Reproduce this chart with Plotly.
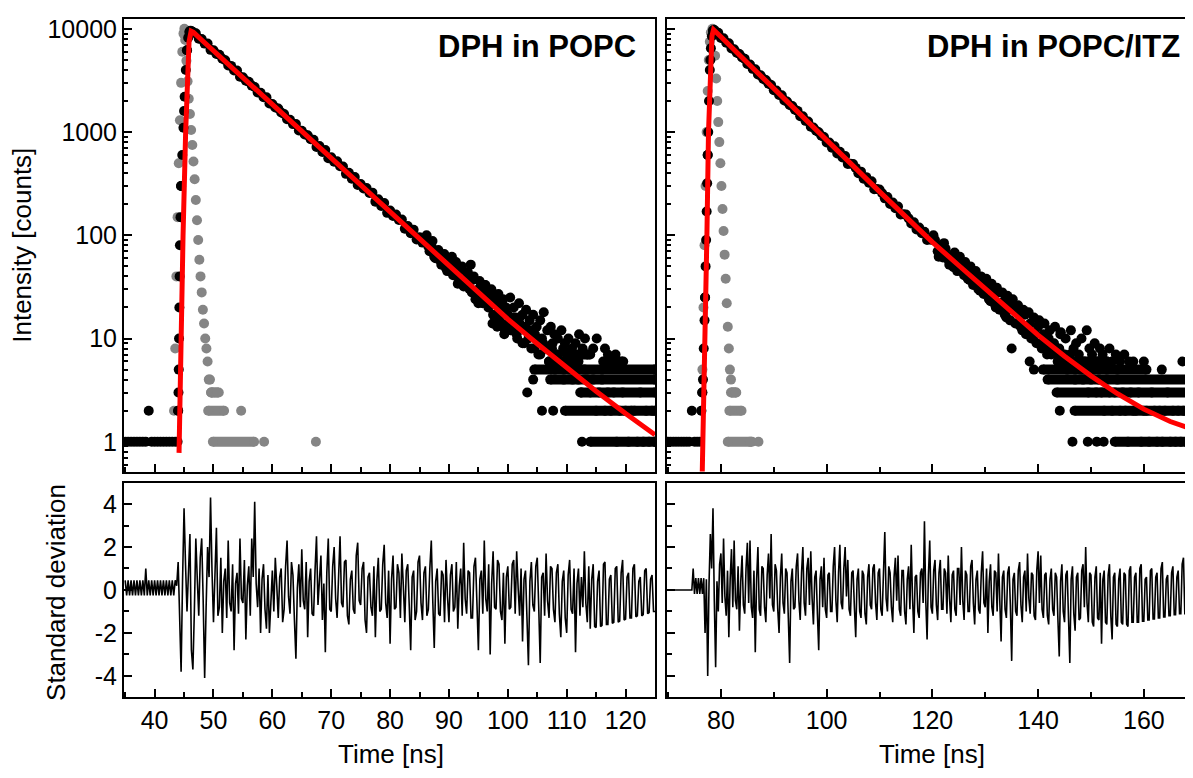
import plotly.graph_objects as go

# ---------------- DPH in POPC (left panels) ----------------
popc_t = [35, 35.5, 36, 36.5, 37, 37.5, 38, 38.5, 39, 39.5,
          40, 40.5, 41, 41.5, 42, 42.5, 43, 43.5, 44, 44.5,
          45, 45.5, 46, 46.5, 47, 47.5, 48, 48.5, 49, 49.5,
          50, 50.5, 51, 51.5, 52, 52.5, 53, 53.5, 54, 54.5,
          55, 55.5, 56, 56.5, 57, 57.5, 58, 58.5, 59, 59.5,
          60, 60.5, 61, 61.5, 62, 62.5, 63, 63.5, 64, 64.5,
          65, 65.5, 66, 66.5, 67, 67.5, 68, 68.5, 69, 69.5,
          70, 70.5, 71, 71.5, 72, 72.5, 73, 73.5, 74, 74.5,
          75, 75.5, 76, 76.5, 77, 77.5, 78, 78.5, 79, 79.5,
          80, 80.5, 81, 81.5, 82, 82.5, 83, 83.5, 84, 84.5,
          85, 85.5, 86, 86.5, 87, 87.5, 88, 88.5, 89, 89.5,
          90, 90.5, 91, 91.5, 92, 92.5, 93, 93.5, 94, 94.5,
          95, 95.5, 96, 96.5, 97, 97.5, 98, 98.5, 99, 99.5,
          100, 100.5, 101, 101.5, 102, 102.5, 103, 103.5, 104, 104.5,
          105, 105.5, 106, 106.5, 107, 107.5, 108, 108.5, 109, 109.5,
          110, 110.5, 111, 111.5, 112, 112.5, 113, 113.5, 114, 114.5,
          115, 115.5, 116, 116.5, 117, 117.5, 118, 118.5, 119, 119.5,
          120, 120.5, 121, 121.5, 122, 122.5, 123, 123.5, 124, 124.5,
          125]
popc_counts = [1, 1, 1, 1, 1, 1, 1, 1, 2, 1,
               1, 1, 1, 1, 1, 1, 1, 1, 2, 300,
               1600, 6200, 9500, 9330, 9050, 8030, 7960, 7200, 7200, 6260,
               6200, 5720, 5610, 5130, 4970, 4410, 4380, 3960, 3950, 3440,
               3400, 3150, 3080, 2820, 2730, 2425, 2410, 2175, 2170, 1890,
               1870, 1730, 1690, 1550, 1500, 1330, 1315, 1195, 1195, 1037,
               1030, 950, 931, 851, 842, 717, 732, 643, 669, 558,
               571, 516, 522, 468, 463, 394, 403, 353, 368, 307,
               314, 284, 287, 257, 259, 212, 224, 192, 206, 165,
               174, 154, 159, 141, 142, 116, 123, 105, 113, 91,
               96, 85, 87, 78, 80, 62, 69, 57, 64, 48,
               53, 46, 49, 43, 46, 32, 39, 30, 37, 24,
               30, 24, 28, 23, 26, 17, 22, 16, 22, 12,
               17, 12, 16, 11, 14, 9, 13, 10, 12, 8,
               10, 7, 9, 8, 6, 8, 5, 7, 6, 4,
               6, 5, 4, 5, 4, 3, 5, 4, 3, 4,
               2, 3, 4, 2, 3, 2, 3, 1, 2, 3,
               2, 1, 2, 2, 1, 3, 1, 2, 1, 2,
               1]

# weighted residuals, read on a finer time grid
popc_rt = [35, 35.25, 35.5, 35.75, 36, 36.25, 36.5, 36.75, 37, 37.25,
           37.5, 37.75, 38, 38.25, 38.5, 38.75, 39, 39.25, 39.5, 39.75,
           40, 40.25, 40.5, 40.75, 41, 41.25, 41.5, 41.75, 42, 42.25,
           42.5, 42.75, 43, 43.25, 43.5, 43.75, 44, 44.25, 44.5, 44.75,
           45, 45.25, 45.5, 45.75, 46, 46.25, 46.5, 46.75, 47, 47.25,
           47.5, 47.75, 48, 48.25, 48.5, 48.75, 49, 49.25, 49.5, 49.75,
           50, 50.25, 50.5, 50.75, 51, 51.25, 51.5, 51.75, 52, 52.25,
           52.5, 52.75, 53, 53.25, 53.5, 53.75, 54, 54.25, 54.5, 54.75,
           55, 55.25, 55.5, 55.75, 56, 56.25, 56.5, 56.75, 57, 57.25,
           57.5, 57.75, 58, 58.25, 58.5, 58.75, 59, 59.25, 59.5, 59.75,
           60, 60.25, 60.5, 60.75, 61, 61.25, 61.5, 61.75, 62, 62.25,
           62.5, 62.75, 63, 63.25, 63.5, 63.75, 64, 64.25, 64.5, 64.75,
           65, 65.25, 65.5, 65.75, 66, 66.25, 66.5, 66.75, 67, 67.25,
           67.5, 67.75, 68, 68.25, 68.5, 68.75, 69, 69.25, 69.5, 69.75,
           70, 70.25, 70.5, 70.75, 71, 71.25, 71.5, 71.75, 72, 72.25,
           72.5, 72.75, 73, 73.25, 73.5, 73.75, 74, 74.25, 74.5, 74.75,
           75, 75.25, 75.5, 75.75, 76, 76.25, 76.5, 76.75, 77, 77.25,
           77.5, 77.75, 78, 78.25, 78.5, 78.75, 79, 79.25, 79.5, 79.75,
           80, 80.25, 80.5, 80.75, 81, 81.25, 81.5, 81.75, 82, 82.25,
           82.5, 82.75, 83, 83.25, 83.5, 83.75, 84, 84.25, 84.5, 84.75,
           85, 85.25, 85.5, 85.75, 86, 86.25, 86.5, 86.75, 87, 87.25,
           87.5, 87.75, 88, 88.25, 88.5, 88.75, 89, 89.25, 89.5, 89.75,
           90, 90.25, 90.5, 90.75, 91, 91.25, 91.5, 91.75, 92, 92.25,
           92.5, 92.75, 93, 93.25, 93.5, 93.75, 94, 94.25, 94.5, 94.75,
           95, 95.25, 95.5, 95.75, 96, 96.25, 96.5, 96.75, 97, 97.25,
           97.5, 97.75, 98, 98.25, 98.5, 98.75, 99, 99.25, 99.5, 99.75,
           100, 100.25, 100.5, 100.75, 101, 101.25, 101.5, 101.75, 102, 102.25,
           102.5, 102.75, 103, 103.25, 103.5, 103.75, 104, 104.25, 104.5, 104.75,
           105, 105.25, 105.5, 105.75, 106, 106.25, 106.5, 106.75, 107, 107.25,
           107.5, 107.75, 108, 108.25, 108.5, 108.75, 109, 109.25, 109.5, 109.75,
           110, 110.25, 110.5, 110.75, 111, 111.25, 111.5, 111.75, 112, 112.25,
           112.5, 112.75, 113, 113.25, 113.5, 113.75, 114, 114.25, 114.5, 114.75,
           115, 115.25, 115.5, 115.75, 116, 116.25, 116.5, 116.75, 117, 117.25,
           117.5, 117.75, 118, 118.25, 118.5, 118.75, 119, 119.25, 119.5, 119.75,
           120, 120.25, 120.5, 120.75, 121, 121.25, 121.5, 121.75, 122, 122.25,
           122.5, 122.75, 123, 123.25, 123.5, 123.75, 124, 124.25, 124.5, 124.75,
           125]
popc_resid = [0.45, -0.25, 0.45, -0.25, 0.45, -0.25, 0.45, -0.25, 0.45, -0.25,
              0.45, -0.25, 0.45, -0.25, 1.0, -0.25, 0.45, -0.25, 0.45, -0.25,
              0.45, -0.25, 0.45, -0.25, 0.45, -0.25, 0.45, -0.25, 0.45, -0.25,
              0.45, -0.25, 0.45, -0.25, 0.45, 0.2, 1.3, -1.5, -3.8, 0.5,
              3.8, 1.2, -1.0, 0.8, 2.6, -2.8, -3.7, -1.0, 2.4, 0.5,
              -1.2, 1.5, 2.4, -0.5, -4.1, -0.8, 2.0, 0.6, 4.3, 0.9,
              -1.5, 0.7, 2.9, -1.2, -0.8, 1.5, -2.0, 0.4, 1.0, -1.3,
              2.3, -0.6, -1.0, 1.2, -2.8, 0.3, 0.8, -1.1, 2.4, -0.4,
              -0.6, 1.4, -2.3, 0.2, 1.1, -1.2, 2.4, 0.6, 4.1, 0.3,
              -0.8, 1.0, -2.0, 0.5, 1.2, -0.9, -1.8, 0.7, -2.0, -0.6,
              0.9, -1.0, 1.5, 0.2, -1.3, 0.6, 1.0, -1.5, -0.9, 1.1,
              2.3, -0.3, -1.1, 1.3, 0.7, -1.4, -3.2, 0.1, 1.2, -0.8,
              1.9, -0.5, -0.9, 1.3, -2.2, 0.4, 1.0, -1.1, -1.2, 0.9,
              2.5, -0.7, 0.6, 1.6, -1.4, 0.3, -2.9, 0.8, 2.4, -0.9,
              -1.0, 1.1, 2.0, -0.4, -1.3, 0.9, 2.5, -0.6, -0.8, 1.3,
              1.4, -1.2, -1.6, 0.5, 0.9, -0.9, -1.1, 1.6, 2.2, -0.5,
              -0.7, 1.0, 1.3, -1.4, -2.0, 0.6, 0.8, -0.8, -1.2, 1.1,
              -2.2, 0.4, 1.5, -1.0, -0.9, 1.2, 2.1, -0.6, -1.3, 0.9,
              -2.5, 0.5, 1.6, -0.9, -0.8, 1.2, 0.8, -1.3, 1.7, 0.2,
              -1.5, 0.9, 1.2, -0.7, -2.8, 0.6, 0.9, -1.4, -1.0, 1.3,
              1.6, -0.6, -1.4, 0.8, 1.1, -1.2, -0.9, 1.0, 2.3, -0.5,
              -2.7, 0.4, 1.0, -1.1, -1.2, 0.9, 0.7, -1.5, 1.4, -0.3,
              -1.5, 0.7, 1.2, -1.0, -0.8, 1.3, -1.8, 0.2, 1.0, -1.2,
              2.2, -0.4, -1.1, 0.9, 0.8, -1.3, -1.3, 1.1, 1.5, -0.6,
              -2.8, 0.5, 0.9, -1.1, 2.3, -0.4, -1.0, 1.2, -3.0, 0.3,
              1.8, -0.8, -0.9, 1.4, 1.2, -1.0, -1.4, 0.8, -2.5, 0.6,
              1.1, -0.9, -0.8, 1.2, 1.4, -1.1, 1.8, 0.1, -1.2, 1.0,
              -2.4, 0.5, 0.9, -1.3, -3.5, 0.4, 1.3, -0.7, -1.0, 1.1,
              1.5, -0.8, -3.4, 0.6, 0.8, -1.2, 1.7, -0.5, -1.3, 1.1,
              1.0, -0.9, -1.5, 0.8, 1.2, -1.1, -2.2, 0.4, 0.9, -1.3,
              -2.0, 0.7, 1.4, -0.9, -1.1, 1.0, -2.9, 0.3, 1.0, -1.2,
              0.6, -0.8, 1.8, -0.6, -1.5, 1.1, -1.8, 0.5, 1.2, -1.7,
              -1.75, 0.4, 0.9, -1.7, -1.65, 1.2, 1.3, -1.6, -1.6, 0.5,
              0.7, -1.55, -1.5, 1.0, 1.1, -1.5, -1.45, 0.8, 1.4, -1.4,
              -1.35, 0.6, 0.8, -1.3, -1.3, 1.0, 1.2, -1.25, -1.2, 0.4,
              0.6, -1.2, -1.15, 0.9, 1.0, -1.1, -1.05, 0.5, 0.7, -1.0,
              -1.0]

# rising edge and the noisy low-count cloud (extra channels)
popc_rise_t = [43.9, 44.0, 44.05, 44.1, 44.15, 44.2, 44.25, 44.3, 44.4, 44.5,
               44.7, 44.9, 45.1, 45.3, 45.5, 45.7, 45.9, 46.1, 46.3]
popc_rise_c = [1, 2, 3, 5, 10, 20, 40, 80, 150, 300,
               600, 1100, 2200, 4000, 6200, 8200, 9300, 9600, 9500]
popc_cloud_t = [86.2, 86.7, 87.2, 87.7, 88.2, 88.7, 89.2, 89.7, 90.2, 90.7,
                91.2, 91.7, 92.2, 92.7, 93.2, 93.7, 93.9, 94.2, 94.7, 95.2,
                95.7, 96.2, 96.7, 97.2, 97.4, 97.7, 98.2, 98.4, 98.7, 99.2,
                99.4, 99.7, 100.2, 100.4, 100.7, 101.0, 101.3, 101.6, 101.9, 102.2,
                102.5, 102.8, 103.1, 103.4, 103.7, 104.0, 104.3, 104.6, 104.9, 105.2,
                105.5, 105.8, 106.1, 106.4, 106.7, 107.0, 107.3, 107.6, 107.9, 108.2,
                108.5, 108.8, 109.1, 109.4, 109.7, 110.3, 110.6, 110.9, 111.5, 112.1,
                112.7, 113.1, 113.5, 114.5, 115.1, 116.5, 117.0, 118.3, 103.3, 105.8,
                107.7, 112.6, 104.3, 90.5, 91.5, 95.0, 96.0, 98.0, 99.0, 102.0]
popc_cloud_c = [100, 70, 88, 60, 72, 52, 66, 45, 60, 41,
                55, 38, 50, 34, 44, 52, 28, 40, 27, 36,
                22, 33, 20, 30, 14, 25, 13, 27, 19, 24,
                11, 20, 14, 25, 12, 20, 16, 10, 22, 13,
                17, 9, 19, 12, 15, 8, 17, 11, 13, 7,
                15, 10, 18, 8, 12, 6, 13, 9, 11, 7,
                10, 6, 12, 8, 9, 10, 7, 8, 9, 11,
                8, 10, 7, 8, 10, 8, 7, 7, 3, 2,
                2, 1, 4, 62, 34, 22, 33, 25, 14, 16]
# dense rows of quantised counts in the tail: level, first and last channel
popc_band_level = [1, 2, 3, 4, 5, 6, 6, 7]
popc_band_start = [114.0, 109.7, 112.3, 107.2, 104.5, 108.0, 116.2, 110.0]
popc_band_end = [125.0, 125.0, 125.0, 125.0, 125.0, 112.0, 119.6, 114.0]

# instrument response (grey)
popc_irf_t = [43.3, 43.5, 43.7, 43.9, 44.1, 44.3, 44.5, 44.7, 44.9, 45.05,
              45.2, 45.4, 45.6, 45.8, 46.0, 46.2, 46.4, 46.6, 46.8, 47.0,
              47.2, 47.4, 47.6, 47.8, 48.0, 48.2, 48.4, 48.6, 48.8, 49.0,
              49.2, 49.4, 49.6, 49.8, 50.2, 50.6, 54.7, 58.6, 67.4]
popc_irf_c = [2, 8, 40, 150, 500, 1300, 3000, 6000, 9000, 10000,
              7800, 4900, 3100, 2100, 1500, 1050, 750, 520, 350, 220,
              140, 90, 58, 40, 28, 19, 14, 10, 8, 6,
              4, 4, 3, 3, 3, 3, 2, 1, 1]
popc_irf_band_level = [2, 1, 3]
popc_irf_band_start = [49.1, 49.9, 49.6]
popc_irf_band_end = [51.8, 56.9, 50.9]

# fitted decay (red)
popc_fit_t = [44.15, 44.4, 44.83, 45.27, 45.6, 45.85, 46.2, 46.6, 48, 50,
              55, 60, 65, 70, 75, 80, 85, 90, 95, 100,
              105, 110, 115, 120, 125]
popc_fit_c = [0.78, 10, 100, 1000, 4000, 7500, 9500, 9250, 7800, 6140,
              3370, 1850, 1020, 560, 308, 169, 93, 51, 28, 15.4,
              8.9, 5.2, 3.09, 1.88, 1.17]

# ---------------- DPH in POPC/ITZ (right panels) ----------------
itz_t = [70, 70.5, 71, 71.5, 72, 72.5, 73, 73.5, 74, 74.5,
         75, 75.5, 76, 76.5, 77, 77.5, 78, 78.5, 79, 79.5,
         80, 80.5, 81, 81.5, 82, 82.5, 83, 83.5, 84, 84.5,
         85, 85.5, 86, 86.5, 87, 87.5, 88, 88.5, 89, 89.5,
         90, 90.5, 91, 91.5, 92, 92.5, 93, 93.5, 94, 94.5,
         95, 95.5, 96, 96.5, 97, 97.5, 98, 98.5, 99, 99.5,
         100, 100.5, 101, 101.5, 102, 102.5, 103, 103.5, 104, 104.5,
         105, 105.5, 106, 106.5, 107, 107.5, 108, 108.5, 109, 109.5,
         110, 110.5, 111, 111.5, 112, 112.5, 113, 113.5, 114, 114.5,
         115, 115.5, 116, 116.5, 117, 117.5, 118, 118.5, 119, 119.5,
         120, 120.5, 121, 121.5, 122, 122.5, 123, 123.5, 124, 124.5,
         125, 125.5, 126, 126.5, 127, 127.5, 128, 128.5, 129, 129.5,
         130, 130.5, 131, 131.5, 132, 132.5, 133, 133.5, 134, 134.5,
         135, 135.5, 136, 136.5, 137, 137.5, 138, 138.5, 139, 139.5,
         140, 140.5, 141, 141.5, 142, 142.5, 143, 143.5, 144, 144.5,
         145, 145.5, 146, 146.5, 147, 147.5, 148, 148.5, 149, 149.5,
         150, 150.5, 151, 151.5, 152, 152.5, 153, 153.5, 154, 154.5,
         155, 155.5, 156, 156.5, 157, 157.5, 158, 158.5, 159, 159.5,
         160, 160.5, 161, 161.5, 162, 162.5, 163, 163.5, 164, 164.5,
         165, 165.5, 166, 166.5, 167, 167.5, 168, 168.5, 169, 169.5]
itz_counts = [1, 1, 1, 1, 1, 1, 1, 1, 1, 2,
              1, 1, 1, 3, 25, 600, 5000, 9600, 9440, 9180,
              8150, 8090, 7330, 7270, 6460, 6340, 5870, 5700, 5280, 5130,
              4560, 4520, 4100, 4070, 3610, 3545, 3280, 3190, 2950, 2860,
              2550, 2530, 2290, 2275, 2020, 1980, 1830, 1785, 1650, 1605,
              1425, 1420, 1285, 1265, 1125, 1110, 1030, 997, 922, 896,
              795, 792, 704, 728, 622, 644, 567, 586, 492, 494,
              490, 450, 400, 414, 354, 366, 323, 334, 279, 281,
              278, 256, 228, 235, 201, 208, 183, 190, 159, 160,
              159, 146, 130, 134, 114, 119, 105, 108, 90, 91,
              90, 90, 70, 79, 61, 74, 58, 63, 49, 54,
              58, 53, 41, 47, 37, 44, 34, 38, 29, 32,
              35, 33, 23, 29, 20, 28, 20, 23, 16, 19,
              22, 20, 14, 17, 12, 17, 12, 14, 10, 11,
              13, 9, 11, 8, 10, 7, 9, 7, 8, 6,
              7, 5, 7, 6, 4, 6, 5, 4, 5, 3,
              4, 5, 3, 4, 3, 2, 4, 3, 2, 3,
              4, 2, 3, 2, 1, 3, 2, 2, 3, 1,
              2, 2, 1, 3, 2, 1, 2, 1, 2, 3,
              1, 2, 1, 2, 1, 2, 1, 2, 1, 2]

itz_rt = [70, 70.25, 70.5, 70.75, 71, 71.25, 71.5, 71.75, 72, 72.25,
          72.5, 72.75, 73, 73.25, 73.5, 73.75, 74, 74.25, 74.5, 74.75,
          75, 75.25, 75.5, 75.75, 76, 76.25, 76.5, 76.75, 77, 77.25,
          77.5, 77.75, 78, 78.25, 78.5, 78.75, 79, 79.25, 79.5, 79.75,
          80, 80.25, 80.5, 80.75, 81, 81.25, 81.5, 81.75, 82, 82.25,
          82.5, 82.75, 83, 83.25, 83.5, 83.75, 84, 84.25, 84.5, 84.75,
          85, 85.25, 85.5, 85.75, 86, 86.25, 86.5, 86.75, 87, 87.25,
          87.5, 87.75, 88, 88.25, 88.5, 88.75, 89, 89.25, 89.5, 89.75,
          90, 90.25, 90.5, 90.75, 91, 91.25, 91.5, 91.75, 92, 92.25,
          92.5, 92.75, 93, 93.25, 93.5, 93.75, 94, 94.25, 94.5, 94.75,
          95, 95.25, 95.5, 95.75, 96, 96.25, 96.5, 96.75, 97, 97.25,
          97.5, 97.75, 98, 98.25, 98.5, 98.75, 99, 99.25, 99.5, 99.75,
          100, 100.25, 100.5, 100.75, 101, 101.25, 101.5, 101.75, 102, 102.25,
          102.5, 102.75, 103, 103.25, 103.5, 103.75, 104, 104.25, 104.5, 104.75,
          105, 105.25, 105.5, 105.75, 106, 106.25, 106.5, 106.75, 107, 107.25,
          107.5, 107.75, 108, 108.25, 108.5, 108.75, 109, 109.25, 109.5, 109.75,
          110, 110.25, 110.5, 110.75, 111, 111.25, 111.5, 111.75, 112, 112.25,
          112.5, 112.75, 113, 113.25, 113.5, 113.75, 114, 114.25, 114.5, 114.75,
          115, 115.25, 115.5, 115.75, 116, 116.25, 116.5, 116.75, 117, 117.25,
          117.5, 117.75, 118, 118.25, 118.5, 118.75, 119, 119.25, 119.5, 119.75,
          120, 120.25, 120.5, 120.75, 121, 121.25, 121.5, 121.75, 122, 122.25,
          122.5, 122.75, 123, 123.25, 123.5, 123.75, 124, 124.25, 124.5, 124.75,
          125, 125.25, 125.5, 125.75, 126, 126.25, 126.5, 126.75, 127, 127.25,
          127.5, 127.75, 128, 128.25, 128.5, 128.75, 129, 129.25, 129.5, 129.75,
          130, 130.25, 130.5, 130.75, 131, 131.25, 131.5, 131.75, 132, 132.25,
          132.5, 132.75, 133, 133.25, 133.5, 133.75, 134, 134.25, 134.5, 134.75,
          135, 135.25, 135.5, 135.75, 136, 136.25, 136.5, 136.75, 137, 137.25,
          137.5, 137.75, 138, 138.25, 138.5, 138.75, 139, 139.25, 139.5, 139.75,
          140, 140.25, 140.5, 140.75, 141, 141.25, 141.5, 141.75, 142, 142.25,
          142.5, 142.75, 143, 143.25, 143.5, 143.75, 144, 144.25, 144.5, 144.75,
          145, 145.25, 145.5, 145.75, 146, 146.25, 146.5, 146.75, 147, 147.25,
          147.5, 147.75, 148, 148.25, 148.5, 148.75, 149, 149.25, 149.5, 149.75,
          150, 150.25, 150.5, 150.75, 151, 151.25, 151.5, 151.75, 152, 152.25,
          152.5, 152.75, 153, 153.25, 153.5, 153.75, 154, 154.25, 154.5, 154.75,
          155, 155.25, 155.5, 155.75, 156, 156.25, 156.5, 156.75, 157, 157.25,
          157.5, 157.75, 158, 158.25, 158.5, 158.75, 159, 159.25, 159.5, 159.75,
          160, 160.25, 160.5, 160.75, 161, 161.25, 161.5, 161.75, 162, 162.25,
          162.5, 162.75, 163, 163.25, 163.5, 163.75, 164, 164.25, 164.5, 164.75,
          165, 165.25, 165.5, 165.75, 166, 166.25, 166.5, 166.75, 167, 167.25,
          167.5, 167.75, 168, 168.25, 168.5, 168.75, 169, 169.25, 169.5, 169.75]
itz_resid = [0, 0, 0, 0, 0, 0, 0, 0, 0, 0,
             0, 0, 0, 0, 0, 0, 0, 0, 0, 1.0,
             -0.18, 0.55, -0.18, 0.55, -0.18, 0.55, -0.18, 0.55, -2.0, 0.5,
             -4.0, 0.3, 2.6, 1.0, 3.8, -0.5, -3.6, 0.4, -1.0, 1.2,
             1.7, -0.6, 2.4, -0.3, -1.2, 0.9, -2.2, 0.5, 1.9, -0.8,
             2.3, -0.5, -0.9, 1.1, -1.9, 0.4, 1.6, -0.7, -1.1, 1.0,
             2.2, -0.6, 2.3, -0.8, -1.3, 0.9, -2.9, 0.5, 2.0, -0.9,
             -1.2, 1.1, 1.0, -0.8, -1.5, 0.7, 1.7, -0.4, 2.6, -0.7,
             -1.0, 1.2, 0.9, -0.9, -2.0, 0.6, 1.7, -0.6, -1.1, 1.0,
             0.8, -1.3, -3.4, 0.4, 1.0, -0.9, -0.8, 1.1, 1.7, -0.5,
             -1.4, 0.8, 2.0, -0.6, -1.2, 1.0, 1.5, -0.7, 1.8, -0.4,
             -1.6, 0.6, 0.9, -1.1, -2.8, 0.5, 1.1, -0.8, 1.5, -0.9,
             -1.3, 0.7, 0.8, -1.0, -1.0, 1.1, 2.0, -0.5, -1.5, 0.8,
             2.1, -0.6, -0.9, 1.0, 2.0, -0.3, 1.4, -0.9, -1.2, 0.8,
             0.9, -0.8, -2.2, 0.5, 1.0, -1.0, -1.3, 0.9, 0.7, -1.1,
             -1.6, 0.6, 1.2, -0.7, -0.9, 1.0, 1.2, -0.6, -1.4, 0.8,
             1.0, -0.9, -1.2, 0.8, 2.7, -0.4, -1.0, 1.1, 0.8, -0.8,
             -1.5, 0.6, 1.5, -0.5, 1.6, -0.9, -1.2, 0.9, 0.9, -1.0,
             -1.6, 0.5, 1.1, -0.9, 2.1, -0.4, -2.0, 0.6, 0.7, -1.0,
             -1.3, 0.8, 1.0, -0.6, 3.2, -0.5, -2.3, 0.7, 2.3, -0.8,
             -1.1, 0.9, 1.4, -0.7, -1.4, 0.8, 1.4, -0.9, -0.9, 1.0,
             0.8, -1.1, 1.6, -0.4, -1.5, 0.7, 0.9, -0.9, -1.2, 1.0,
             1.0, -0.7, 2.0, -0.5, -1.4, 0.9, 0.7, -1.0, -1.0, 1.1,
             1.4, -0.6, -1.6, 0.5, 0.9, -0.9, -1.1, 0.8, 1.8, -0.6,
             -0.8, 1.0, -2.0, 0.4, 1.2, -0.8, -1.2, 0.9, 0.8, -1.0,
             1.7, -0.5, -2.4, 0.6, 0.9, -0.9, -1.3, 0.8, 1.1, -0.7,
             -3.3, 0.5, 0.8, -1.0, -1.2, 0.9, 1.3, -0.7, -1.5, 0.6,
             0.9, -1.0, 1.7, -0.4, -1.1, 0.8, 0.7, -1.2, -1.4, 0.9,
             1.8, -0.6, 1.6, -0.9, -1.3, 0.7, 0.8, -1.2, -1.6, 0.5,
             1.0, -0.9, -1.2, 0.8, 0.6, -1.4, -3.1, 0.4, 1.2, -1.0,
             -1.5, 0.7, 0.9, -1.3, -3.4, 0.5, 1.1, -1.1, -1.9, 0.6,
             0.8, -1.4, -1.3, 0.9, 1.2, -0.8, 2.0, -0.6, -1.5, 0.8,
             0.7, -1.5, -1.7, 0.6, 1.1, -1.3, -1.4, 0.8, -2.5, 0.5,
             0.9, -1.5, -1.6, 0.7, 1.2, -1.2, -2.3, 0.6, 0.8, -1.6,
             -1.7, 0.5, 1.0, -1.5, -1.6, 0.8, 0.7, -1.6, -1.7, 0.9,
             1.1, -1.5, -1.5, 0.6, 0.8, -1.5, -1.5, 1.0, 1.2, -1.45,
             -1.45, 0.5, 0.6, -1.4, -1.4, 0.9, 1.0, -1.35, -1.35, 0.6,
             0.8, -1.3, -1.3, 1.0, 1.3, -1.25, -1.25, 0.5, 0.7, -1.2,
             -1.2, 0.8, 1.1, -1.15, -1.15, 0.6, 0.9, -1.1, -1.1, 1.2,
             1.5, -1.1, -1.1, 0.5, 0.8, -1.05, -1.05, 0.7, 1.0, -1.0]

itz_rise_t = [76.3, 76.45, 76.6, 76.75, 76.9, 77.0, 77.1, 77.2, 77.3, 77.4,
              77.5, 77.6, 77.75, 77.9, 78.1, 78.3, 78.5, 78.7]
itz_rise_c = [2, 3, 4, 8, 15, 25, 50, 90, 170, 320,
              600, 1000, 2000, 4000, 6500, 8500, 9600, 9800]
itz_cloud_t = [120.2, 121.2, 122.2, 123.2, 124.2, 124.7,
               125.2, 125.7, 126.2, 126.7, 127.2, 127.7, 128.2, 128.7, 129.2, 129.7,
               130.2, 130.7, 131.2, 131.7, 132.2, 132.7, 133.2, 133.7, 134.2, 134.7,
               135.0, 135.2, 135.7, 136.2, 136.7, 137.2, 137.7, 138.2, 138.4, 138.7,
               139.2, 139.7, 140.2, 140.7, 141.2, 141.7, 142.2, 142.7, 143.2, 143.7,
               144.2, 144.7, 145.2, 145.7, 146.2, 146.7, 147.2, 147.7, 148.2, 148.7,
               149.2, 149.7, 150.2, 150.7, 151.2, 151.7, 152.2, 153.0, 153.5, 154.0,
               154.7, 155.5, 156.3, 157.2, 158.0, 160.0, 163.4, 167.3, 139.2, 144.3,
               146.5, 149.4, 151.1, 152.4, 144.1]
itz_cloud_c = [100, 62, 84, 52, 68, 45,
               62, 44, 55, 38, 50, 33, 45, 30, 40, 27,
               38, 24, 34, 22, 31, 19, 28, 17, 26, 15,
               8, 24, 14, 21, 13, 19, 11, 18, 6, 10,
               16, 9, 15, 8, 14, 7, 12, 8, 13, 6,
               11, 7, 10, 6, 12, 8, 9, 7, 10, 6,
               12, 8, 7, 9, 6, 8, 7, 6, 8, 6,
               7, 6, 7, 6, 6, 6, 5, 6, 5, 11.5,
               1, 1, 1, 1, 2]
itz_band_level = [1, 2, 3, 4, 5, 6]
itz_band_start = [154.5, 146.9, 143.5, 141.8, 140.9, 145.0]
itz_band_end = [169.5, 169.5, 169.5, 169.5, 160.5, 153.0]

itz_irf_t = [76.3, 76.5, 76.7, 76.9, 77.1, 77.3, 77.5, 77.7, 77.9, 78.1,
             78.4, 78.7, 78.9, 79.1, 79.3, 79.5, 79.7, 79.9, 80.1, 80.3,
             80.5, 80.7, 80.9, 81.1, 81.3, 81.5, 81.7, 81.9, 82.1, 82.4,
             82.8, 85.5, 87.1]
itz_irf_c = [2, 5, 20, 80, 300, 1000, 2500, 5000, 7500, 9200,
             10000, 9000, 5500, 3300, 2000, 1250, 800, 500, 300, 180,
             110, 65, 38, 22, 13, 8, 5, 4, 3, 3,
             3, 1, 1]
itz_irf_band_level = [2, 1, 3]
itz_irf_band_start = [81.6, 81.3, 81.9]
itz_irf_band_end = [83.9, 85.9, 82.9]

itz_fit_t = [76.45, 76.6, 77.0, 77.35, 77.65, 77.98, 78.3, 78.6, 79.0, 80,
             85, 90, 95, 100, 105, 110, 115, 120, 125, 130,
             135, 140, 145, 150, 155, 160, 165, 169.5]
itz_fit_c = [0.45, 1, 10, 100, 1000, 5000, 8500, 9800, 9450, 8400,
             4700, 2630, 1470, 820, 467, 265, 151, 86, 51, 30.5,
             18.2, 10.8, 6.73, 4.35, 2.92, 2.07, 1.57, 1.31]

log_ticks = [1, 10, 100, 1000, 10000]
log_ticktext = ["1", "10", "100", "1000", "10000"]
resid_ticks = [-4, -2, 0, 2, 4]
resid_ticktext = ["-4", "-2", "0", "2", "4"]

FONT = "Liberation Sans, Arial, sans-serif"
BLACK = "#000000"
GREY = "#858585"
RED = "#ff0000"
DOT = 10

# the page puts the figure 8 px in from the top-left corner
W, H, OFF = 1185, 770, 8


def fx(px):
    return (px - OFF) / W


def fy(py):
    return (778 - py) / H


def band_xy(levels, starts, ends):
    xs, ys = [], []
    for lv, a, b in zip(levels, starts, ends):
        xs += [a, b, None]
        ys += [lv, lv, None]
    return xs, ys


fig = go.Figure()


def add_decay(xa, ya, t, counts, rise_t, rise_c, cloud_t, cloud_c,
              bl, bs, be, irf_t, irf_c, gl, gs, ge, fit_t, fit_c):
    gx, gy = band_xy(gl, gs, ge)
    fig.add_trace(go.Scatter(x=gx, y=gy, mode="lines+markers", xaxis=xa, yaxis=ya,
                             line=dict(color=GREY, width=DOT),
                             marker=dict(color=GREY, size=DOT), showlegend=False))
    fig.add_trace(go.Scatter(x=irf_t, y=irf_c, mode="markers", xaxis=xa, yaxis=ya,
                             marker=dict(color=GREY, size=DOT), showlegend=False))
    bx, by = band_xy(bl, bs, be)
    fig.add_trace(go.Scatter(x=bx, y=by, mode="lines+markers", xaxis=xa, yaxis=ya,
                             line=dict(color=BLACK, width=DOT),
                             marker=dict(color=BLACK, size=DOT), showlegend=False))
    for xs, ys in [(t, counts), (rise_t, rise_c), (cloud_t, cloud_c)]:
        fig.add_trace(go.Scatter(x=xs, y=ys, mode="markers", xaxis=xa, yaxis=ya,
                                 marker=dict(color=BLACK, size=DOT), showlegend=False))
    fig.add_trace(go.Scatter(x=fit_t, y=fit_c, mode="lines", xaxis=xa, yaxis=ya,
                             line=dict(color=RED, width=5), showlegend=False))


add_decay("x", "y", popc_t, popc_counts, popc_rise_t, popc_rise_c,
          popc_cloud_t, popc_cloud_c, popc_band_level, popc_band_start, popc_band_end,
          popc_irf_t, popc_irf_c, popc_irf_band_level, popc_irf_band_start,
          popc_irf_band_end, popc_fit_t, popc_fit_c)
add_decay("x2", "y2", itz_t, itz_counts, itz_rise_t, itz_rise_c,
          itz_cloud_t, itz_cloud_c, itz_band_level, itz_band_start, itz_band_end,
          itz_irf_t, itz_irf_c, itz_irf_band_level, itz_irf_band_start,
          itz_irf_band_end, itz_fit_t, itz_fit_c)

fig.add_trace(go.Scatter(x=popc_rt, y=popc_resid, mode="lines", xaxis="x3", yaxis="y3",
                         line=dict(color=BLACK, width=1.6), showlegend=False))
fig.add_trace(go.Scatter(x=itz_rt, y=itz_resid, mode="lines", xaxis="x4", yaxis="y4",
                         line=dict(color=BLACK, width=1.6), showlegend=False))

minor_log = [0.6, 0.7, 0.8, 0.9] + [m * 10 ** d for d in range(4) for m in range(2, 10)]

base = dict(showline=True, linecolor=BLACK, linewidth=2, ticks="inside",
            tickcolor=BLACK, tickwidth=2, ticklen=8, showgrid=False, zeroline=False,
            tickfont=dict(family=FONT, size=25, color=BLACK))
minor_x = dict(ticks="inside", ticklen=5, tickwidth=2, tickcolor=BLACK, showgrid=False)

left_dom = [fx(124), fx(655)]
right_dom = [fx(667), 1.0]
top_dom = [fy(470), fy(15)]
bot_dom = [fy(697), fy(481)]

fig.update_layout(
    width=W, height=H, margin=dict(l=0, r=0, t=0, b=0),
    paper_bgcolor="white", plot_bgcolor="white", showlegend=False,
    xaxis=dict(base, domain=left_dom, range=[34.8, 125], anchor="y", mirror=True,
               tick0=0, dtick=10, showticklabels=False, minor=dict(minor_x, dtick=5)),
    yaxis=dict(base, domain=top_dom, type="log", range=[-0.289, 4.096], anchor="x",
               mirror=True, tickmode="array", tickvals=log_ticks, ticktext=log_ticktext,
               ticklabelstandoff=0,
               minor=dict(minor_x, ticklen=4, tickmode="array", tickvals=minor_log)),
    xaxis2=dict(base, domain=right_dom, range=[69.8, 169.3], anchor="y2", mirror=True,
                tick0=0, dtick=20, showticklabels=False, minor=dict(minor_x, dtick=10)),
    yaxis2=dict(base, domain=top_dom, type="log", range=[-0.289, 4.096], anchor="x2",
                mirror=False, tickmode="array", tickvals=log_ticks, showticklabels=False,
                minor=dict(minor_x, ticklen=4, tickmode="array", tickvals=minor_log)),
    xaxis3=dict(base, domain=left_dom, range=[34.8, 125], anchor="y3", mirror=True,
                tick0=0, dtick=10, ticklabelstandoff=0, minor=dict(minor_x, dtick=5)),
    yaxis3=dict(base, domain=bot_dom, range=[-5, 5], anchor="x3", mirror=True,
                tickmode="array", tickvals=resid_ticks, ticktext=resid_ticktext,
                ticklabelstandoff=0, minor=dict(minor_x, tick0=1, dtick=2)),
    xaxis4=dict(base, domain=right_dom, range=[69.8, 169.3], anchor="y4", mirror=True,
                tick0=0, dtick=20, ticklabelstandoff=0, minor=dict(minor_x, dtick=10)),
    yaxis4=dict(base, domain=bot_dom, range=[-5, 5], anchor="x4", mirror=False,
                tickmode="array", tickvals=resid_ticks, showticklabels=False,
                minor=dict(minor_x, tick0=1, dtick=2)),
)

title_font = dict(family=FONT, size=26, color=BLACK)
label_font = dict(family=FONT, size=31, color=BLACK)
fig.add_annotation(text="Intensity [counts]", x=fx(22), y=fy(243),
                   xref="paper", yref="paper", textangle=-90, showarrow=False,
                   font=title_font, xanchor="center", yanchor="middle")
fig.add_annotation(text="Standard deviation", x=fx(56), y=fy(592),
                   xref="paper", yref="paper", textangle=-90, showarrow=False,
                   font=title_font, xanchor="center", yanchor="middle")
fig.add_annotation(text="Time [ns]", x=fx(391), y=fy(754),
                   xref="paper", yref="paper", showarrow=False, font=title_font,
                   xanchor="center", yanchor="middle")
fig.add_annotation(text="Time [ns]", x=fx(932), y=fy(754),
                   xref="paper", yref="paper", showarrow=False, font=title_font,
                   xanchor="center", yanchor="middle")
fig.add_annotation(text="<b>DPH in POPC</b>", x=fx(638), y=fy(43),
                   xref="paper", yref="paper", showarrow=False, font=label_font,
                   xanchor="right", yanchor="middle")
fig.add_annotation(text="<b>DPH in POPC/ITZ</b>", x=fx(1182), y=fy(43),
                   xref="paper", yref="paper", showarrow=False, font=label_font,
                   xanchor="right", yanchor="middle")

fig.write_html("out.html")
